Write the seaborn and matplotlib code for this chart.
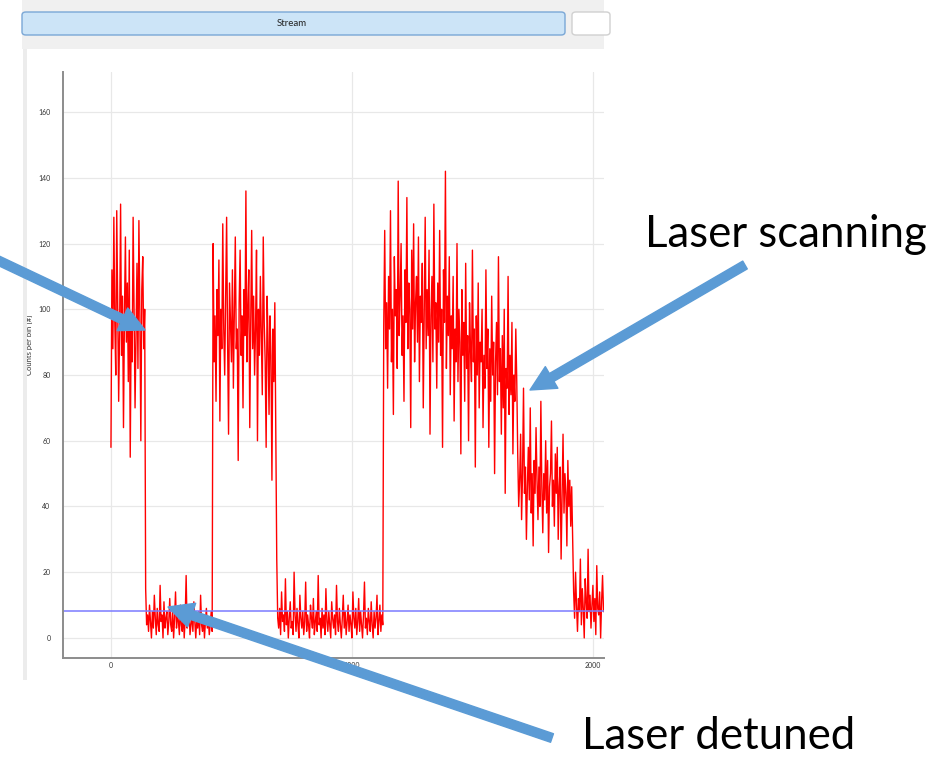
import numpy as np
import pandas as pd
import matplotlib.pyplot as plt
import seaborn as sns
from matplotlib.patches import FancyArrowPatch, FancyBboxPatch, Rectangle, ArrowStyle

# --- data (counts per 4-unit bin) ---
bin_width = 4
scan_1 = [58, 112, 88, 128, 96, 80, 130, 102, 72, 94, 132, 86, 104, 64, 98, 122, 90, 108, 78, 118,
          55, 96, 84, 128, 100, 70, 92, 114, 82, 127, 98, 60, 106, 116, 88, 100]
detuned_1 = [15, 4, 7, 2, 10, 5, 0, 8, 3, 13, 6, 1, 9, 4, 2, 16, 5, 7, 0, 11,
             3, 6, 8, 1, 5, 12, 4, 2, 9, 0, 6, 14, 3, 7, 5, 1, 10, 4, 2, 8,
             0, 6, 19, 3, 5, 9, 1, 4, 7, 2, 11, 5, 0, 6, 3, 8, 1, 13, 4, 2,
             7, 0, 5, 9, 3, 6, 1, 4, 8, 2]
scan_2 = [120, 84, 98, 72, 106, 92, 115, 66, 100, 88, 126, 94, 80, 104, 128, 90, 62, 108, 96, 84,
          112, 76, 100, 122, 88, 94, 54, 102, 118, 86, 98, 70, 106, 92, 136, 84, 100, 112, 64, 96,
          124, 88, 104, 80, 94, 118, 60, 100, 86, 110, 92, 74, 122, 96, 84, 58, 104, 90, 68, 98,
          86, 48, 94, 78, 102, 64]
detuned_2 = [24, 6, 3, 9, 1, 14, 5, 7, 2, 18, 4, 8, 0, 6, 11, 3, 5, 1, 20, 7,
             2, 9, 4, 0, 13, 6, 3, 8, 1, 5, 17, 2, 7, 4, 0, 10, 6, 3, 12, 1,
             5, 8, 2, 19, 4, 6, 0, 9, 3, 7, 1, 15, 5, 2, 8, 4, 0, 11, 6, 3,
             7, 1, 16, 5, 2, 9, 4, 0, 6, 13, 3, 8, 1, 5, 10, 2, 7, 4, 0, 14,
             6, 3, 9, 1, 5, 12, 2, 8, 4, 0, 7, 17, 3, 6, 1, 9, 5, 2, 11, 4,
             0, 8, 3, 6, 13, 1, 5, 10, 2, 7, 4]
scan_3 = [95, 124, 88, 102, 76, 110, 94, 130, 84, 100, 68, 116, 98, 106, 82, 139, 92, 104, 120, 86,
          98, 72, 112, 96, 134, 88, 108, 100, 64, 118, 94, 126, 84, 102, 110,
          90, 122, 78, 104, 96, 114, 70, 100, 128, 88, 106, 92, 118, 62, 98, 110, 84, 132, 94, 102,
          76, 108, 90, 124, 86, 100, 58, 112, 96, 142, 82, 104, 92, 116, 74,
          98, 88, 110, 66, 94, 84, 120, 78, 100, 90, 56, 106, 86, 96, 72, 114, 82, 92, 60, 102,
          88, 78, 118, 84, 94, 52, 98, 80, 108, 70, 90, 84, 100, 64, 86,
          76, 112, 82, 94, 58, 88, 72, 104, 80, 90, 50, 84, 96, 74, 116, 78, 88, 62, 92, 70,
          100, 44, 82, 76, 110, 68, 86, 74, 96, 56, 80, 72, 94, 78]
scan_4 = [56, 40, 48, 62, 36, 50, 76, 44, 52, 30, 46, 58, 42, 70, 38, 50, 28, 54, 44, 64,
          48, 36, 52, 40, 72, 46, 32, 50, 42, 60, 38, 54, 26, 46, 50, 66, 40, 48, 34, 56,
          44, 58, 30, 46, 52, 24, 42, 62, 38, 50, 44, 28, 54, 40, 48, 34, 46, 30]
detuned_3 = [14, 6, 20, 10, 2, 12, 8, 24, 4, 15, 9, 0, 18, 11, 6, 27, 8, 13, 3, 10,
             16, 5, 12, 1, 22, 9, 7, 14, 0, 11, 19, 8]

counts = scan_1 + detuned_1 + scan_2 + detuned_2 + scan_3 + scan_4 + detuned_3
time_bins = np.arange(len(counts)) * bin_width
background_level = 8.2

x_ticks = [0, 1000, 2000]
y_ticks = [0, 20, 40, 60, 80, 100, 120, 140, 160]
y_label = "Counts per bin [#]"
label_scan = "Laser scanning"
label_detuned = "Laser detuned"

W, H = 953, 758


def fx(px):
    return px / W


def fy(py):
    return 1 - py / H


sns.set_theme(style="whitegrid")
plt.rcParams['font.family'] = ['Lato', 'DejaVu Sans']

fig = plt.figure(figsize=(9.53, 7.58), dpi=100)
fig.patch.set_facecolor('white')

# GUI chrome: grey strip, Stream button, panel border
fig.add_artist(Rectangle((fx(22), fy(49)), fx(604) - fx(22), fy(0) - fy(49),
                         transform=fig.transFigure, facecolor='#f0f0f0', edgecolor='none'))
fig.add_artist(Rectangle((fx(23), fy(680)), fx(27) - fx(23), fy(49) - fy(680),
                         transform=fig.transFigure, facecolor='#ececec', edgecolor='none'))
fig.add_artist(FancyBboxPatch((fx(22), fy(35)), fx(565) - fx(22), fy(12) - fy(35),
                              boxstyle="round,pad=0,rounding_size=0.004",
                              transform=fig.transFigure, facecolor='#cce4f7',
                              edgecolor='#7aa7d6', linewidth=1))
fig.add_artist(FancyBboxPatch((fx(572), fy(35)), fx(610) - fx(572), fy(12) - fy(35),
                              boxstyle="round,pad=0,rounding_size=0.004",
                              transform=fig.transFigure, facecolor='white',
                              edgecolor='#d0d0d0', linewidth=1))
fig.text(fx(292), fy(23), "Stream", fontsize=7, ha='center', va='center', color='#222222')

ax = fig.add_axes([fx(63), fy(658), fx(604) - fx(63), fy(72) - fy(658)])
df = pd.DataFrame({'time': time_bins, 'counts': counts})
sns.lineplot(data=df, x='time', y='counts', ax=ax, color='red', linewidth=1.0)
ax.axhline(background_level, color='#7b7bff', linewidth=1.3, alpha=0.85)

ax.set_xlim(-199, 2046)
ax.set_ylim(-6.1, 172.2)
ax.set_xticks(x_ticks)
ax.set_yticks(y_ticks)
ax.set_facecolor('white')
ax.grid(True, color='#e8e8e8', linewidth=0.9)
for side in ['top', 'right']:
    ax.spines[side].set_visible(False)
for side in ['left', 'bottom']:
    ax.spines[side].set_color('#8c8c8c')
    ax.spines[side].set_linewidth(1.4)
ax.tick_params(axis='both', length=0, labelsize=5, colors='#333333')
ax.tick_params(axis='y', pad=9)
ax.tick_params(axis='x', pad=3)
ax.set_xlabel('')
ax.set_ylabel(y_label, fontsize=5.5, color='#333333')
ax.yaxis.set_label_coords((33 - 63) / 541, (658 - 345) / 586)

# annotation arrows and text
arrow_style = ArrowStyle.Simple(head_length=18, head_width=18, tail_width=6.5)
for tail, tip in [((-5, 259), (145, 330)), ((745, 265), (530, 390)), ((552, 738), (168, 607))]:
    fig.add_artist(FancyArrowPatch((fx(tail[0]), fy(tail[1])), (fx(tip[0]), fy(tip[1])),
                                   transform=fig.transFigure, arrowstyle=arrow_style,
                                   mutation_scale=1, color='#5b9bd5', shrinkA=0, shrinkB=0))
fig.text(fx(645), fy(247), label_scan, fontsize=31.5, va='baseline', ha='left', color='black')
fig.text(fx(582), fy(749), label_detuned, fontsize=31.5, va='baseline', ha='left', color='black')

fig.savefig('out.png', dpi=100, facecolor='white')
